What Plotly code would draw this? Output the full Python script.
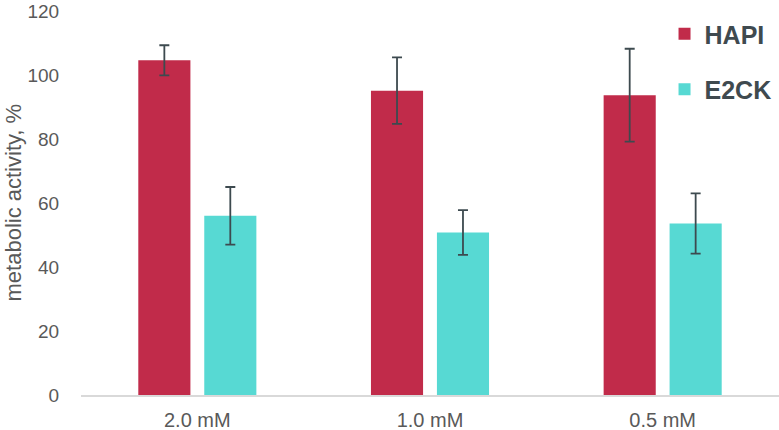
import plotly.graph_objects as go

categories = ["2.0 mM", "1.0 mM", "0.5 mM"]
hapi_values = [104.6, 95.1, 93.7]
hapi_errors = [4.7, 10.4, 14.5]
e2ck_values = [56.0, 50.8, 53.6]
e2ck_errors = [9.0, 7.0, 9.4]
y_ticks = [0, 20, 40, 60, 80, 100, 120]

TXT = "#595959"
ERR = "#3d4a4f"
FONT = "Liberation Sans, Arial, sans-serif"

fig = go.Figure()
fig.add_trace(go.Bar(
    name="HAPI", x=categories, y=hapi_values, legendgroup="a",
    marker=dict(color="#C12B4A", line=dict(width=0)),
    error_y=dict(type="data", array=hapi_errors, visible=True, color=ERR, thickness=1.8, width=5),
))
fig.add_trace(go.Bar(
    name="E2CK", x=categories, y=e2ck_values, legendgroup="b",
    marker=dict(color="#57D9D3", line=dict(width=0)),
    error_y=dict(type="data", array=e2ck_errors, visible=True, color=ERR, thickness=1.8, width=5),
))

fig.update_layout(
    width=779, height=430,
    margin=dict(l=81, r=0, t=11, b=35),
    paper_bgcolor="white", plot_bgcolor="white",
    barmode="group", bargap=0.433, bargroupgap=0.21,
    font=dict(family=FONT, color=TXT),
    showlegend=True,
    legend=dict(
        x=0.836, y=1.0, xanchor="left", yanchor="top",
        font=dict(family=FONT, size=25, color="#3f4a4f", weight="bold"),
        bgcolor="rgba(0,0,0,0)", tracegroupgap=20, traceorder="grouped",
        itemwidth=30,
    ),
    xaxis=dict(
        showgrid=False, zeroline=False, showline=True, linecolor="#d9d9d9", linewidth=1.5,
        ticks="outside", ticklen=6, tickcolor="rgba(0,0,0,0)", automargin=False,
        tickfont=dict(size=20, color=TXT), ticklabeloverflow="allow",
    ),
    yaxis=dict(
        range=[0, 120], tickvals=y_ticks, showgrid=False, zeroline=False, showline=False,
        ticks="outside", ticklen=17, tickcolor="rgba(0,0,0,0)", automargin=False,
        tickfont=dict(size=19, color=TXT), ticklabeloverflow="allow",
    ),
    annotations=[dict(
        text="metabolic activity, %", textangle=-90,
        x=0, y=0.5, xref="paper", yref="paper", xanchor="right", yanchor="middle",
        xshift=-54, showarrow=False, font=dict(family=FONT, size=22, color=TXT),
    )],
)

fig.write_html(
    "out.html",
    config={"displayModeBar": False},
    post_script="document.body.style.margin='0';document.body.style.overflow='hidden';",
)
